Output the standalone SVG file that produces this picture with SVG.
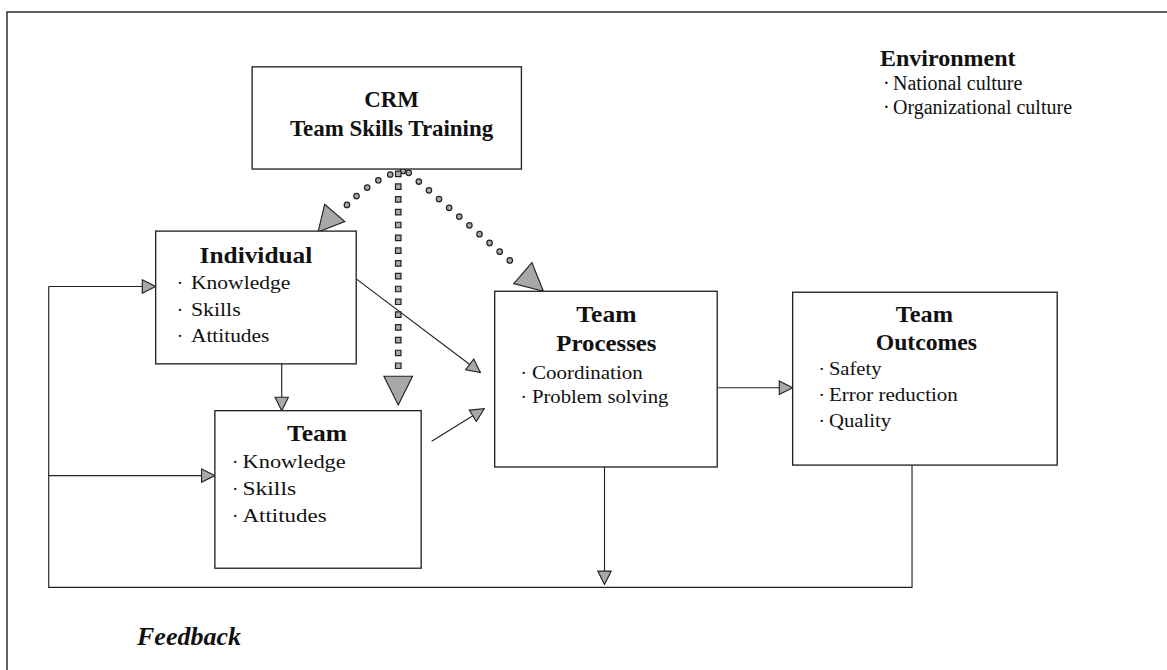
<svg xmlns="http://www.w3.org/2000/svg" width="1167" height="670" viewBox="0 0 1167 670">
  <style>
    .box { fill: #fff; stroke: #222; stroke-width: 1.4; }
    .frame { fill: none; stroke: #222; stroke-width: 1.4; }
    .ln { fill: none; stroke: #222; stroke-width: 1.2; }
    .title { font-family: "Liberation Serif", "Times New Roman", serif; font-weight: bold; font-size: 24px; fill: #111; }
    .body { font-family: "Liberation Serif", "Times New Roman", serif; font-size: 20px; fill: #111; }
    .fb { font-family: "Liberation Serif", "Times New Roman", serif; font-weight: bold; font-style: italic; font-size: 26px; fill: #111; }
    .head { fill: #a8a8a8; stroke: #222; stroke-width: 1.2; stroke-linejoin: miter; }
    .dotOut { fill: none; stroke: #222; stroke-width: 7; stroke-linecap: round; stroke-dasharray: 0 14; }
    .dotIn { fill: none; stroke: #aaa; stroke-width: 4.5; stroke-linecap: round; stroke-dasharray: 0 14; }
    .sqOut { fill: none; stroke: #222; stroke-width: 7; stroke-linecap: square; stroke-dasharray: 0 13.4; }
    .sqIn { fill: none; stroke: #aaa; stroke-width: 4.5; stroke-linecap: square; stroke-dasharray: 0 13.4; }
  </style>
  <defs>
    <marker id="arr" viewBox="0 0 16 16" refX="15" refY="8" markerWidth="16" markerHeight="16" markerUnits="userSpaceOnUse" orient="auto">
      <path d="M1,1 L15,8 L1,15 Z" class="head"/>
    </marker>
  </defs>

  <rect width="1167" height="670" fill="#fff"/>
  <!-- outer frame (runs off the right and bottom edges) -->
  <rect class="frame" x="7" y="12" width="1200" height="700"/>

  <g transform="scale(0.955)">
  <!-- connectors -->
  <g id="connectors">
    <line class="ln" x1="373" y1="292" x2="503" y2="390" marker-end="url(#arr)"/>
    <line class="ln" x1="452" y1="462" x2="507" y2="428" marker-end="url(#arr)"/>
    <line class="ln" x1="295" y1="381" x2="295" y2="430" marker-end="url(#arr)"/>
    <line class="ln" x1="752" y1="406" x2="830" y2="406" marker-end="url(#arr)"/>
    <line class="ln" x1="633" y1="489" x2="633" y2="612" marker-end="url(#arr)"/>
    <!-- feedback loop -->
    <polyline class="ln" points="955,487 955,615 51,615 51,300"/>
    <line class="ln" x1="51" y1="300" x2="163" y2="300" marker-end="url(#arr)"/>
    <line class="ln" x1="51" y1="498" x2="225" y2="498" marker-end="url(#arr)"/>
    <!-- training effects (dotted) -->
    <path class="dotOut" d="M422,179 Q392,184 356,222"/>
    <path class="dotIn" d="M422,179 Q392,184 356,222"/>
    <polygon class="head" points="333,243 340,214 361,232"/>
    <path class="sqOut" d="M417,182 L417,384"/>
    <path class="sqIn" d="M417,182 L417,384"/>
    <polygon class="head" points="402,394 432,394 417,424"/>
    <path class="dotOut" d="M428,181 L540,278"/>
    <path class="dotIn" d="M428,181 L540,278"/>
    <polygon class="head" points="569,305 538,297 557,275"/>
  </g>

  <g id="crm">
    <rect class="box" x="264" y="70" width="282" height="107"/>
    <text class="title" x="410" y="112" text-anchor="middle" font-size="21">CRM</text>
    <text class="title" x="410" y="142" text-anchor="middle" font-size="17">Team Skills Training</text>
  </g>

  <g id="individual">
    <rect class="box" x="163" y="242" width="210" height="139"/>
    <text class="title" x="268" y="275" text-anchor="middle" textLength="118" lengthAdjust="spacingAndGlyphs">Individual</text>
    <text class="body" x="185" y="303">·</text>
    <text class="body" x="200" y="303" textLength="104" lengthAdjust="spacingAndGlyphs">Knowledge</text>
    <text class="body" x="185" y="331">·</text>
    <text class="body" x="200" y="331" textLength="52" lengthAdjust="spacingAndGlyphs">Skills</text>
    <text class="body" x="185" y="358">·</text>
    <text class="body" x="200" y="358" textLength="82" lengthAdjust="spacingAndGlyphs">Attitudes</text>
  </g>

  <g id="team">
    <rect class="box" x="225" y="430" width="216" height="165"/>
    <text class="title" x="332" y="462" text-anchor="middle" textLength="63" lengthAdjust="spacingAndGlyphs">Team</text>
    <text class="body" x="243" y="490">·</text>
    <text class="body" x="254" y="490" textLength="108" lengthAdjust="spacingAndGlyphs">Knowledge</text>
    <text class="body" x="243" y="518">·</text>
    <text class="body" x="254" y="518" textLength="56" lengthAdjust="spacingAndGlyphs">Skills</text>
    <text class="body" x="243" y="547">·</text>
    <text class="body" x="254" y="547" textLength="88" lengthAdjust="spacingAndGlyphs">Attitudes</text>
  </g>

  <g id="processes">
    <rect class="box" x="518" y="305" width="233" height="184"/>
    <text class="title" x="635" y="337" text-anchor="middle" textLength="63" lengthAdjust="spacingAndGlyphs">Team</text>
    <text class="title" x="635" y="368" text-anchor="middle" textLength="105" lengthAdjust="spacingAndGlyphs">Processes</text>
    <text class="body" x="545" y="397">·</text>
    <text class="body" x="557" y="397" textLength="116" lengthAdjust="spacingAndGlyphs">Coordination</text>
    <text class="body" x="545" y="422">·</text>
    <text class="body" x="557" y="422" textLength="143" lengthAdjust="spacingAndGlyphs">Problem solving</text>
  </g>

  <g id="outcomes">
    <rect class="box" x="830" y="306" width="277" height="181"/>
    <text class="title" x="968" y="337" text-anchor="middle" textLength="60" lengthAdjust="spacingAndGlyphs">Team</text>
    <text class="title" x="970" y="367" text-anchor="middle" textLength="106" lengthAdjust="spacingAndGlyphs">Outcomes</text>
    <text class="body" x="857" y="393">·</text>
    <text class="body" x="868" y="393" textLength="55" lengthAdjust="spacingAndGlyphs">Safety</text>
    <text class="body" x="857" y="420">·</text>
    <text class="body" x="868" y="420" textLength="135" lengthAdjust="spacingAndGlyphs">Error reduction</text>
    <text class="body" x="857" y="447">·</text>
    <text class="body" x="868" y="447" textLength="65" lengthAdjust="spacingAndGlyphs">Quality</text>
  </g>
  </g>

  <g id="feedback">
    <text class="fb" x="137" y="645">Feedback</text>
  </g>

  <g id="environment">
    <text class="title" x="880" y="66" font-size="19">Environment</text>
    <text class="body" x="883" y="90" font-size="18">·</text>
    <text class="body" x="893" y="90" font-size="18">National culture</text>
    <text class="body" x="883" y="114" font-size="18">·</text>
    <text class="body" x="893" y="114" font-size="18">Organizational culture</text>
  </g>
</svg>
